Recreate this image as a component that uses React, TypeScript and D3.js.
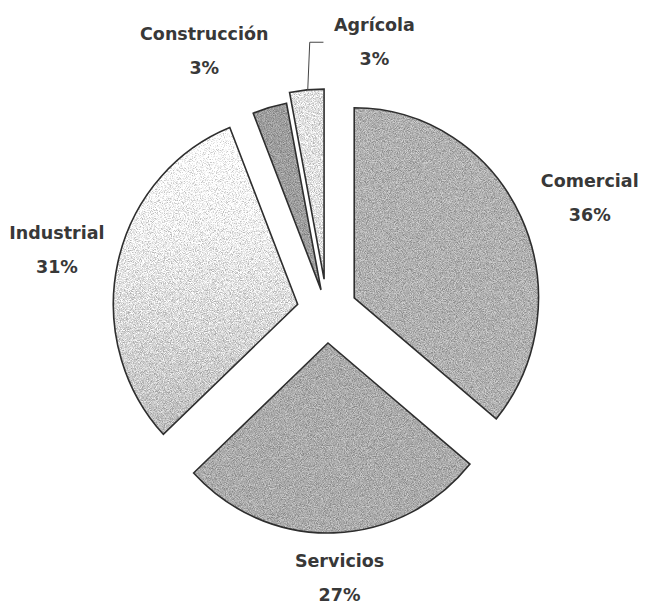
import React from "react";
import * as d3 from "d3";

const categories = ["Comercial", "Servicios", "Industrial", "Construcción", "Agrícola"];
const values = [36, 27, 31, 3, 3];
const pctLabels = ["36%", "27%", "31%", "3%", "3%"];

// layout (not data)
const W = 645;
const H = 605;
const CX = 327;
const CY = 311;
const R = 190;
const SX = 0.97;
const explode = [31, 32, 31, 22, 32];
const labelR = 280;
const labelNudge: [number, number][] = [
  [17, -1],
  [4, -20],
  [-5, -7],
  [-47, 2],
  [73, 3],
];
const fills = ["#acacac", "#a7a7a7", "url(#indGrad)", "#9a9a9a", "#dcdcdc"];

export default function App() {
  const pie = d3
    .pie<number>()
    .sort(null)
    .value((d) => d)
    .startAngle(0)
    .endAngle(2 * Math.PI);
  const arcs = pie(values);
  const arc = d3.arc<d3.PieArcDatum<number>>().innerRadius(0).outerRadius(R);

  const polar = (a: number, r: number): [number, number] => [
    SX * r * Math.sin(a),
    -r * Math.cos(a),
  ];

  return (
    <svg
      width={W}
      height={H}
      style={{ position: "absolute", left: 0, top: 0, background: "#fff" }}
      fontFamily="'DejaVu Sans', sans-serif"
    >
      <defs>
        <filter
          id="grain"
          x="-5%"
          y="-5%"
          width="110%"
          height="110%"
          colorInterpolationFilters="sRGB"
        >
          <feTurbulence type="fractalNoise" baseFrequency="1.1" numOctaves="2" seed="4" result="t" />
          <feColorMatrix
            in="t"
            type="matrix"
            values="0.33 0.33 0.33 0 0  0.33 0.33 0.33 0 0  0.33 0.33 0.33 0 0  0 0 0 0 1"
            result="g"
          />
          <feComponentTransfer in="g" result="c">
            <feFuncR type="linear" slope="3.4" intercept="-1.15" />
            <feFuncG type="linear" slope="3.4" intercept="-1.15" />
            <feFuncB type="linear" slope="3.4" intercept="-1.15" />
          </feComponentTransfer>
          <feComposite in="SourceGraphic" in2="c" operator="arithmetic" k1="0.42" k2="0.8" k3="0" k4="0" result="m" />
          <feComposite in="m" in2="SourceAlpha" operator="in" />
        </filter>
        <linearGradient id="indGrad" x1="0" y1="0" x2="0" y2="1">
          <stop offset="0" stopColor="#fbfbfb" />
          <stop offset="0.3" stopColor="#ececec" />
          <stop offset="1" stopColor="#b8b8b8" />
        </linearGradient>
      </defs>
      <g transform={`translate(${CX},${CY})`}>
        {arcs.map((a, i) => {
          const mid = (a.startAngle + a.endAngle) / 2;
          const [ox, oy] = polar(mid, explode[i]);
          const d = arc(a) || "";
          return (
            <g key={categories[i]} transform={`translate(${ox},${oy}) scale(${SX},1)`}>
              <path d={d} fill={fills[i]} filter="url(#grain)" />
              <path
                d={d}
                fill="none"
                stroke="#2e2e2e"
                strokeWidth={1.6}
                strokeLinejoin="miter"
                vectorEffect="non-scaling-stroke"
              />
            </g>
          );
        })}
        {arcs.map((a, i) => {
          const mid = (a.startAngle + a.endAngle) / 2;
          const [lx, ly] = polar(mid, labelR);
          const px = lx + labelNudge[i][0];
          const py = ly + labelNudge[i][1];
          return (
            <g key={"l" + categories[i]}>
              <text
                x={px}
                y={py - 4}
                textAnchor="middle"
                fontSize={17.5}
                fontWeight={700}
                fill="#383838"
              >
                {categories[i]}
              </text>
              <text
                x={px}
                y={py + 30}
                textAnchor="middle"
                fontSize={17.5}
                fontWeight={700}
                fill="#383838"
              >
                {pctLabels[i]}
              </text>
            </g>
          );
        })}
        {(() => {
          const i = 4;
          const a = arcs[i];
          const mid = (a.startAngle + a.endAngle) / 2;
          const [ox, oy] = polar(mid, explode[i]);
          const [ex, ey] = polar(mid, R);
          const sx0 = ox + ex;
          const sy0 = oy + ey;
          const [lx, ly] = polar(mid, labelR);
          const px = lx + labelNudge[i][0];
          const py = ly + labelNudge[i][1];
          const line = d3.line()([
            [sx0 + 1, sy0],
            [sx0 + 3, py + 7],
            [px - 51, py + 7],
          ]);
          return <path d={line || ""} fill="none" stroke="#444" strokeWidth={1} />;
        })()}
      </g>
    </svg>
  );
}
